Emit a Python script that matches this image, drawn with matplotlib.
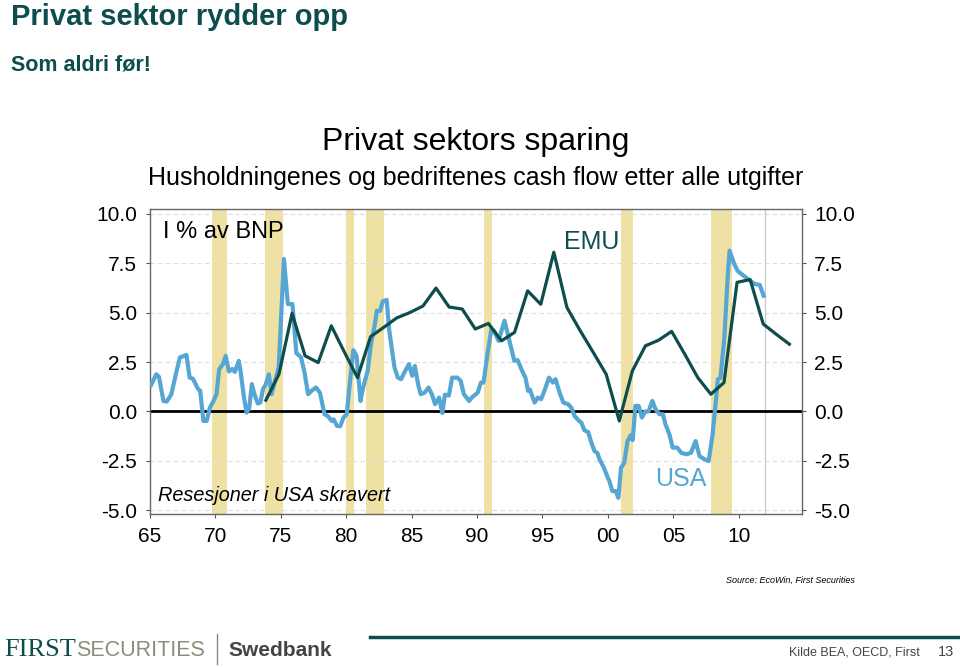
import numpy as np
import matplotlib
matplotlib.use("Agg")
import matplotlib.pyplot as plt

plt.rcParams['font.family'] = ['Liberation Sans', 'DejaVu Sans']

# USA, private sector cash flow, % of GDP (date as decimal year)
usa_x = [1965.1, 1965.5, 1965.7, 1966.05, 1966.3, 1966.65, 1967.0, 1967.3, 1967.8, 1968.05,
         1968.3, 1968.7, 1968.85, 1969.1, 1969.35, 1969.6, 1969.9, 1970.1, 1970.3, 1970.6,
         1970.8, 1971.05, 1971.3, 1971.5, 1971.8, 1971.95, 1972.2, 1972.4, 1972.6, 1972.8,
         1973.0, 1973.25, 1973.45, 1973.65, 1973.85, 1974.1, 1974.3, 1974.5, 1974.85, 1975.25,
         1975.55, 1975.9, 1976.2, 1976.55, 1976.8, 1977.1, 1977.35, 1977.7, 1978.0, 1978.35,
         1978.6, 1978.9, 1979.05, 1979.3, 1979.55, 1979.8, 1980.05, 1980.2, 1980.55, 1980.8,
         1981.1, 1981.3, 1981.65, 1981.9, 1982.2, 1982.35, 1982.6, 1982.8, 1983.1, 1983.3,
         1983.7, 1983.95, 1984.2, 1984.45, 1984.8, 1985.05, 1985.25, 1985.5, 1985.7, 1986.0,
         1986.3, 1986.55, 1986.8, 1987.1, 1987.35, 1987.55, 1987.85, 1988.1, 1988.5, 1988.75,
         1989.0, 1989.4, 1989.6, 1990.05, 1990.3, 1990.5, 1990.8, 1991.1, 1991.3, 1991.65,
         1992.1, 1992.35, 1992.6, 1992.85, 1993.1, 1993.45, 1993.7, 1993.9, 1994.05, 1994.4,
         1994.65, 1994.9, 1995.15, 1995.5, 1995.8, 1996.0, 1996.35, 1996.6, 1996.95, 1997.2,
         1997.45, 1997.8, 1997.97, 1998.2, 1998.5, 1998.7, 1998.97, 1999.2, 1999.35, 1999.7,
         2000.0, 2000.1, 2000.35, 2000.6, 2000.8, 2001.0, 2001.25, 2001.5, 2001.75, 2001.9,
         2002.1, 2002.35, 2002.6, 2002.85, 2003.1, 2003.4, 2003.65, 2003.95, 2004.2, 2004.4,
         2004.7, 2004.95, 2005.3, 2005.6, 2006.0, 2006.35, 2006.7, 2007.0, 2007.4, 2007.7,
         2008.0, 2008.25, 2008.4, 2008.6, 2008.9, 2009.15, 2009.3, 2009.65, 2009.9, 2010.2,
         2010.7, 2010.9, 2011.2, 2011.6, 2011.9]
usa_y = [1.34, 1.88, 1.75, 0.53, 0.5, 0.87, 1.9, 2.73, 2.86, 1.71,
         1.65, 1.12, 1.06, -0.48, -0.48, 0.2, 0.57, 0.87, 2.13, 2.4,
         2.81, 2.02, 2.15, 2.0, 2.56, 1.97, 0.7, -0.06, 0.18, 1.38,
         0.87, 0.4, 0.45, 1.12, 1.35, 1.88, 0.87, 1.38, 2.22, 7.71,
         5.43, 5.43, 2.95, 2.75, 2.05, 0.87, 1.04, 1.21, 0.95, -0.14,
         -0.23, -0.48, -0.4, -0.73, -0.75, -0.31, -0.14, 0.87, 3.1, 2.8,
         0.53, 1.21, 2.05, 3.4, 4.42, 5.09, 5.09, 5.57, 5.64, 4.08,
         2.22, 1.71, 1.63, 1.97, 2.39, 1.8, 2.3, 1.38, 0.87, 0.95,
         1.21, 0.87, 0.37, 0.7, -0.08, 0.85, 0.8, 1.71, 1.71, 1.55,
         0.87, 0.53, 0.7, 0.95, 1.46, 1.46, 2.9, 4.17, 4.08, 3.57,
         4.59, 3.91, 3.23, 2.56, 2.6, 2.05, 1.71, 1.04, 1.1, 0.45,
         0.7, 0.62, 1.04, 1.71, 1.46, 1.63, 0.87, 0.45, 0.37, 0.2,
         -0.23, -0.48, -0.56, -0.95, -1.05, -1.5, -2.0, -2.1, -2.4, -2.85,
         -3.36, -3.5, -4.03, -4.03, -4.37, -2.85, -2.6, -1.5, -1.2, -1.45,
         0.28, 0.28, -0.31, 0.0, 0.0, 0.53, 0.1, -0.14, -0.14, -0.65,
         -1.16, -1.83, -1.83, -2.09, -2.17, -2.09, -1.5, -2.26, -2.43, -2.51,
         -1.16, 0.53, 1.63, 1.7, 3.74, 6.78, 8.13, 7.46, 7.12, 6.95,
         6.7, 6.6, 6.45, 6.4, 5.85]

# EMU, annual (plotted at end of year)
emu_years = list(range(1973, 2014))
emu_vals = [0.57, 1.88, 4.96, 2.81, 2.47, 4.33, 3.0, 1.71, 3.78, 4.25,
            4.73, 5.0, 5.33, 6.24, 5.28, 5.18, 4.17, 4.45, 3.57, 4.0,
            6.1, 5.42, 8.05, 5.26, 4.1, 3.0, 1.88, -0.48, 2.05, 3.32,
            3.6, 4.05, 2.9, 1.71, 0.87, 1.46, 6.53, 6.67, 4.42, 3.9, 3.4]

# US recessions (NBER)
recessions = [(1969.75, 1970.9), (1973.8, 1975.15), (1980.0, 1980.6),
              (1981.5, 1982.9), (1990.5, 1991.15), (2001.0, 2001.9), (2007.85, 2009.5)]

yticks = [-5.0, -2.5, 0.0, 2.5, 5.0, 7.5, 10.0]
xticks = [1965, 1970, 1975, 1980, 1985, 1990, 1995, 2000, 2005, 2010]
xlabels = ["65", "70", "75", "80", "85", "90", "95", "00", "05", "10"]

teal = "#0d4d4d"
blue = "#56a6d3"
band = "#efe1a3"

fig = plt.figure(figsize=(9.6, 6.67), dpi=100)
ax = fig.add_axes([0.156, 0.229, 0.679, 0.458])

for a, b in recessions:
    ax.axvspan(a, b, color=band, lw=0, zorder=0)

for y in yticks:
    ax.axhline(y, color="#dddddd", lw=0.8, ls=(0, (4, 3)), zorder=1)
ax.axvline(2012, color="#cccccc", lw=1, zorder=1)
ax.axhline(0, color="black", lw=2, zorder=2)

ax.plot(usa_x, usa_y, color=blue, lw=3, zorder=3)
ax.plot(np.array(emu_years) + 0.87, emu_vals, color=teal, lw=2.3, zorder=4)

ax.set_xlim(1965, 2014.8)
ax.set_ylim(-5.2, 10.25)
ax.set_xticks(xticks)
ax.set_xticklabels(xlabels)
ax.set_yticks(yticks)
ax.set_yticklabels(["%.1f" % v for v in yticks])
ax.tick_params(labelsize=15, length=3, color="#555555", pad=6)
ax.tick_params(axis="y", right=True, labelright=True)
for s in ax.spines.values():
    s.set_color("#666666")
    s.set_linewidth(1)

ax.text(0.02, 0.96, "I % av BNP", transform=ax.transAxes, fontsize=17, va="top")
ax.text(1998.8, 8.55, "EMU", color=teal, fontsize=18, ha="center", va="center")
ax.text(2005.6, -3.4, "USA", color=blue, fontsize=18, ha="center", va="center")
ax.text(1965.6, -4.25, "Resesjoner i USA skravert", fontsize=14.3, style="italic", va="center")

fig.text(0.496, 0.787, "Privat sektors sparing", fontsize=23, ha="center", va="center")
fig.text(0.496, 0.733, "Husholdningenes og bedriftenes cash flow etter alle utgifter",
         fontsize=18, ha="center", va="center")

fig.text(0.011, 0.975, "Privat sektor rydder opp", fontsize=21, weight="bold",
         color=teal, va="center")
fig.text(0.011, 0.902, "Som aldri før!", fontsize=15.5, weight="bold", color=teal, va="center")

fig.text(0.89, 0.13, "Source: EcoWin, First Securities", fontsize=6.5, style="italic",
         ha="right", va="center")

# footer
fig.text(0.004, 0.025, "FIRST", fontsize=19, family="Liberation Serif", color=teal, va="center")
fig.text(0.079, 0.025, "SECURITIES", fontsize=15.5, color="#8a8f7a", va="center")
fig.add_artist(plt.Line2D([0.226, 0.226], [0.005, 0.05], color="#888888", lw=1))
fig.text(0.238, 0.025, "Swedbank", fontsize=15, weight="bold", color="#444444", va="center")
fig.add_artist(plt.Line2D([0.385, 1.0], [0.045, 0.045], color=teal, lw=2.5))
fig.text(0.958, 0.022, "Kilde BEA, OECD, First", fontsize=9, color="#444444",
         ha="right", va="center")
fig.text(0.977, 0.022, "13", fontsize=10.5, color="#444444", va="center")

fig.savefig("out.png", dpi=100)
